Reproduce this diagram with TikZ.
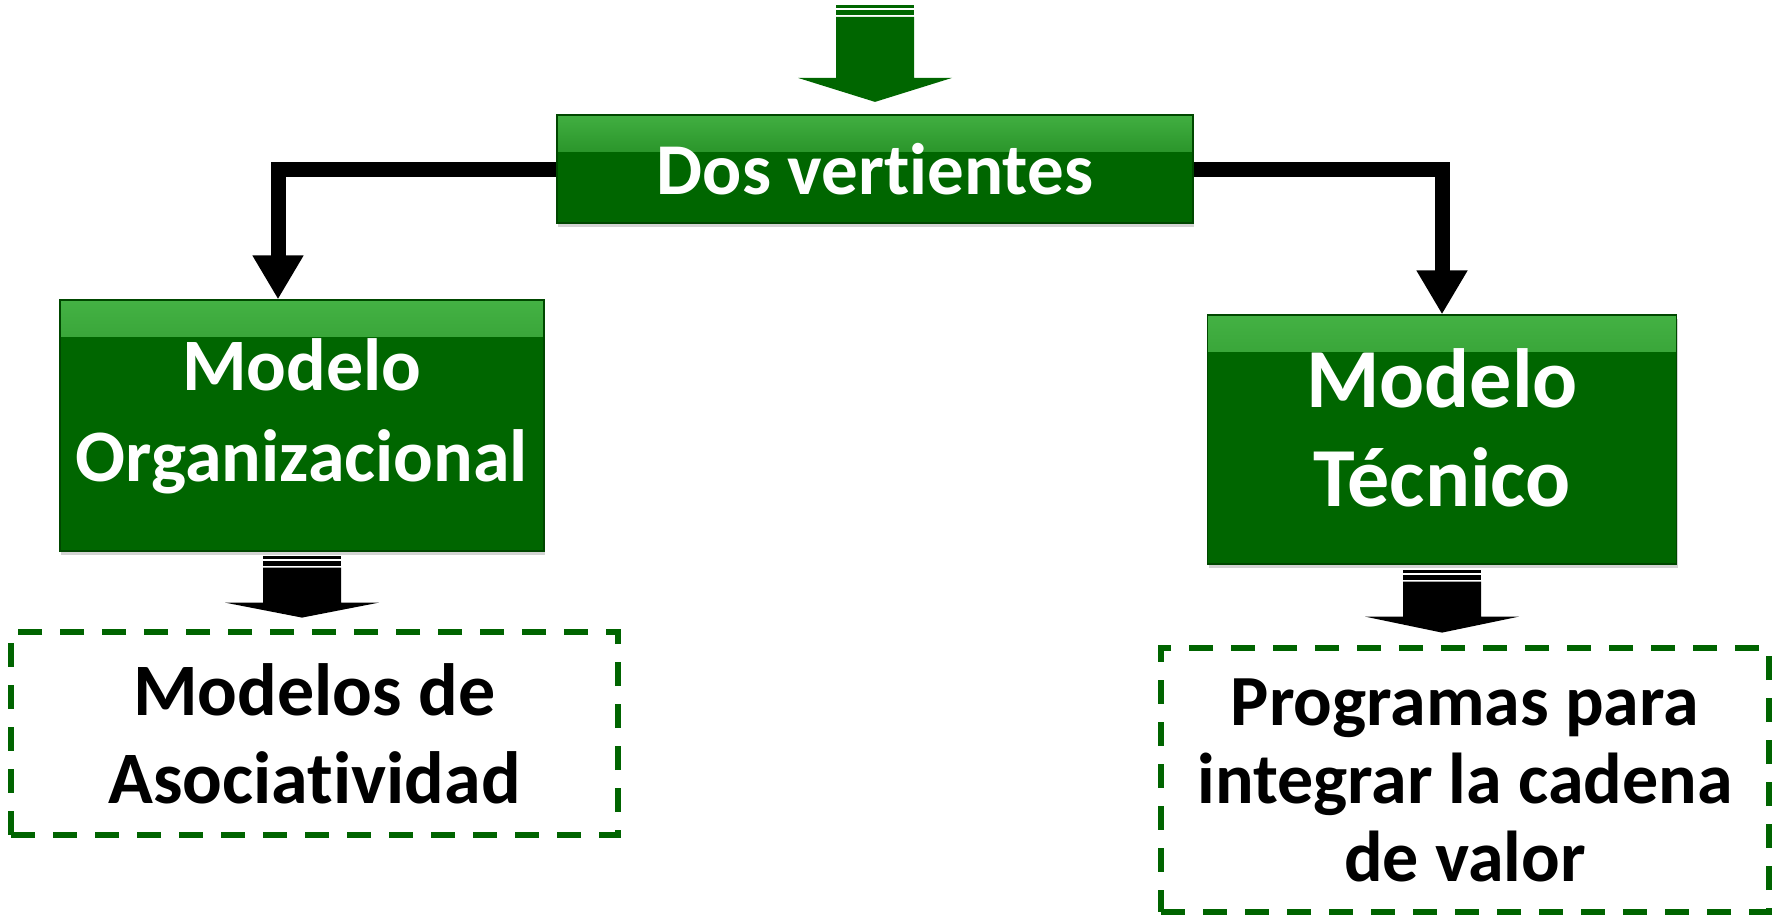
\documentclass[tikz,border=0pt]{standalone}
\usepackage{fontspec}
\setmainfont{Carlito}[Ligatures=NoCommon]
\usetikzlibrary{arrows.meta}
\usetikzlibrary{shadows}

\definecolor{boxgreen}{RGB}{0,102,0}
\definecolor{boxlight}{RGB}{70,180,70}
\definecolor{dashgreen}{RGB}{0,100,0}

\tikzset{
  pics/blockarrow/.style args={#1/#2/#3}{code={
    \fill[#1] (-39,0) rectangle (39,3);
    \fill[#1] (-39,5) rectangle (39,10);
    \fill[#1] (-39,12) -- (39,12) -- (39,#2) -- (77,#2) -- (0,#3) -- (-77,#2) -- (-39,#2) -- cycle;
  }}
}

\begin{document}
\begin{tikzpicture}[x=0.5pt, y=-0.5pt,
    greenbox/.style={rectangle, draw=boxgreen!70!black, line width=0.6pt,
      fill=boxgreen, text=white, align=center, inner sep=0pt,
      path picture={
        \shade[top color=boxlight, bottom color=boxgreen]
          ([yshift=4pt]path picture bounding box.north west) rectangle
          ([yshift=-18pt]path picture bounding box.north east);
      },
      drop shadow={shadow xshift=0.5pt, shadow yshift=-2pt, opacity=0.35}},
    dashbox/.style={rectangle, draw=dashgreen, line width=3pt,
      dash pattern=on 12pt off 9pt, align=center, inner sep=0pt},
    elbow/.style={line width=7.5pt, -{Triangle[width=24pt,length=22pt]}}]
    \useasboundingbox (0,0) rectangle (1776,915);

    \node[greenbox, minimum width=318pt, minimum height=54pt,
      font=\bfseries\fontsize{36.5}{44}\selectfont] (dos) at (875,169) {Dos vertientes};
    \node[greenbox, minimum width=242pt, minimum height=125.5pt, text depth=15pt,
      font=\bfseries\fontsize{37}{45.5}\selectfont] (org) at (302,425.5) {Modelo\\Organizacional};
    \node[greenbox, minimum width=234.5pt, minimum height=124.5pt, text depth=12pt,
      font=\bfseries\fontsize{42}{49.5}\selectfont] (tec) at (1442,439.5) {Modelo\\Técnico};
    \node[dashbox, minimum width=303.5pt, minimum height=101.5pt,
      font=\bfseries\fontsize{37}{44}\selectfont] (asoc) at (314.5,733.5) {Modelos de\\Asociatividad};
    \node[dashbox, minimum width=304pt, minimum height=132pt,
      font=\bfseries\fontsize{36}{39}\selectfont] (prog) at (1465,780) {Programas para\\integrar la cadena\\de valor};

    \pic at ([yshift=54.75pt]dos.north) {blockarrow=boxgreen/73/97};
    \pic at ([yshift=-2pt]org.south) {blockarrow=black/47/62};
    \pic at ([yshift=-2.5pt]tec.south) {blockarrow=black/47/63};

    \draw[elbow] (dos.west) -| ([xshift=-12pt]org.north);
    \draw[elbow] (dos.east) -| (tec.north);

\end{tikzpicture}
\end{document}
